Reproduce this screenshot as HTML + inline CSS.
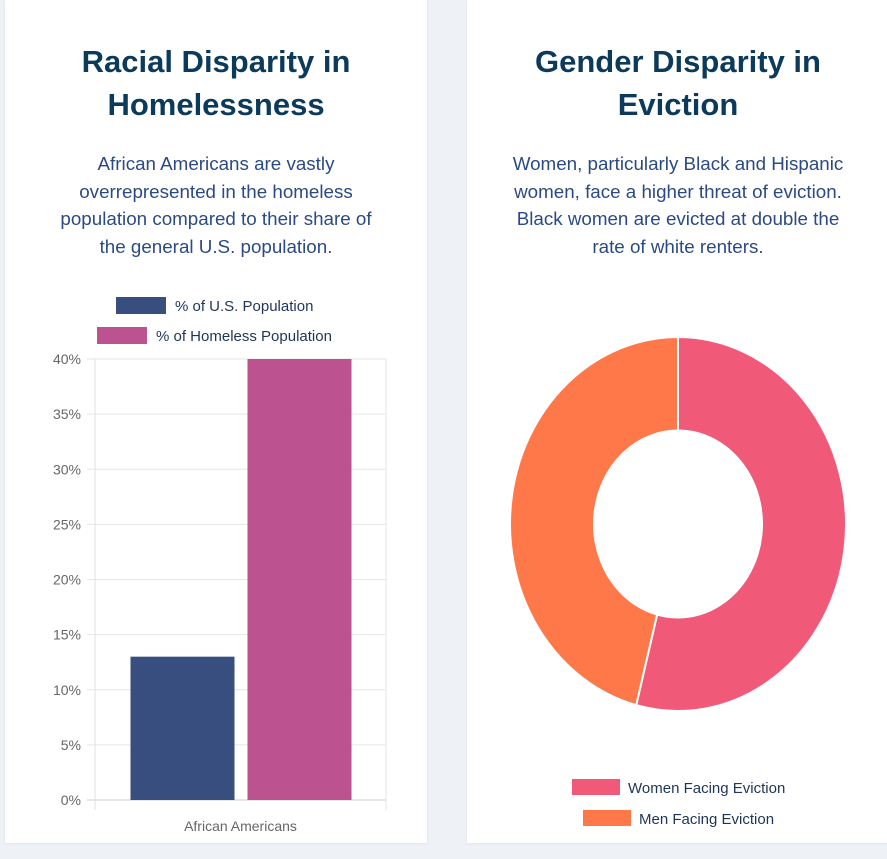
<!DOCTYPE html>
<html><head><meta charset="utf-8"><style>
body{margin:0;width:887px;height:859px;background:#eef2f7;font-family:"Liberation Sans",sans-serif;position:relative;overflow:hidden}
.card{position:absolute;top:0;background:#fff;height:843px;box-shadow:0 1px 3px rgba(0,0,0,.06)}
h2{position:absolute;margin:0;font-size:31px;font-weight:bold;color:#0b3a5a;text-align:center;line-height:43px}
p{position:absolute;margin:0;font-size:18.8px;color:#2b4a85;text-align:center;line-height:27.5px;white-space:nowrap}
svg{position:absolute;left:0;top:0}
</style></head><body>
<div class="card" style="left:5px;width:422px"></div>
<div class="card" style="left:467px;width:430px"></div>
<h2 style="left:5px;width:422px;top:40px">Racial Disparity in<br>Homelessness</h2>
<p style="left:5px;width:422px;top:150px">African Americans are vastly<br>overrepresented in the homeless<br>population compared to their share of<br>the general U.S. population.</p>
<h2 style="left:467px;width:422px;top:40px">Gender Disparity in<br>Eviction</h2>
<p style="left:467px;width:422px;top:150px">Women, particularly Black and Hispanic<br>women, face a higher threat of eviction.<br>Black women are evicted at double the<br>rate of white renters.</p>
<svg id="s" width="887" height="859"></svg>
<script>
const barCategories=["African Americans"];
const barSeriesNames=["% of U.S. Population","% of Homeless Population"];
const usPopulation=[13];
const homelessPopulation=[40];
const yTicks=[0,5,10,15,20,25,30,35,40];
const donutLabels=["Women Facing Eviction","Men Facing Eviction"];
const donutValues=[54,46];

const NS="http://www.w3.org/2000/svg",s=document.getElementById('s');
function mk(t,a,txt){const e=document.createElementNS(NS,t);for(const k in a)e.setAttribute(k,a[k]);if(txt!=null)e.textContent=txt;s.appendChild(e);return e;}
const x0=95,x1=386,yTop=359,yBot=800,yMax=40;
const y=v=>yBot-(v/yMax)*(yBot-yTop);
yTicks.forEach(t=>{
 const l=mk('line',{x1:x0-8,x2:x1,y1:y(t),y2:y(t),stroke:t===0?'#ccc':'#e6e6e6'});
 
 
 const tx=mk('text',{x:x0-14,y:y(t)+5,'text-anchor':'end','font-size':14,fill:'#666'},t+'%');
 
 
});
mk('line',{x1:x0,x2:x0,y1:yTop,y2:yBot+10,stroke:'#e0e0e0'});
mk('line',{x1:x1,x2:x1,y1:yTop,y2:yBot+10,stroke:'#e6e6e6'});
const colors=['#374e7f','#bc528f'];
const catW=(x1-x0)/barCategories.length;
barCategories.forEach((c,i)=>{
 const cx=x0+catW*(i+0.5);
 [usPopulation,homelessPopulation].forEach((arr,j)=>{
  const v=Math.min(arr[i],yMax);
  const bx=j===0?cx-110:cx+7;
  const r=mk('rect',{x:bx,y:y(v),width:104,height:yBot-y(v),fill:colors[j]});
  
  
 });
 const t=mk('text',{x:cx,y:831,'text-anchor':'middle','font-size':14,fill:'#666'},c);
 
 
});
barSeriesNames.forEach((n,j)=>{
 const lx=j===0?116:97,ly=j===0?297:327;
 const r=mk('rect',{x:lx,y:ly,width:50,height:17,fill:colors[j]});
 
 
 const t=mk('text',{x:lx+59,y:ly+14,'font-size':15,fill:'#1f3558'},n);
 
 
});
// donut
const cx=678,cy=524,rx=168,ry=187,k=0.5;
const dc=['#f05a78','#ff7849'];
const total=donutValues.reduce((a,b)=>a+b,0);
let a0=0;
function pt(a,f){return [cx+rx*f*Math.sin(a),cy-ry*f*Math.cos(a)];}
donutValues.forEach((v,i)=>{
 const a1=a0+v/total*2*Math.PI,lg=(a1-a0)>Math.PI?1:0;
 const p1=pt(a0,1),p2=pt(a1,1),p3=pt(a1,k),p4=pt(a0,k);
 const d=`M${p1}A${rx},${ry} 0 ${lg} 1 ${p2}L${p3}A${rx*k},${ry*k} 0 ${lg} 0 ${p4}Z`;
 const p=mk('path',{d:d,fill:dc[i],stroke:'#fff','stroke-width':2});
 
 
 a0=a1;
});
donutLabels.forEach((n,i)=>{
 const lx=i===0?572:583,ly=i===0?779:810;
 const r=mk('rect',{x:lx,y:ly,width:48,height:16,fill:dc[i]});
 
 
 const t=mk('text',{x:lx+56,y:ly+14,'font-size':15,fill:'#1f3558'},n);
 
 
});
</script>
</body></html>
